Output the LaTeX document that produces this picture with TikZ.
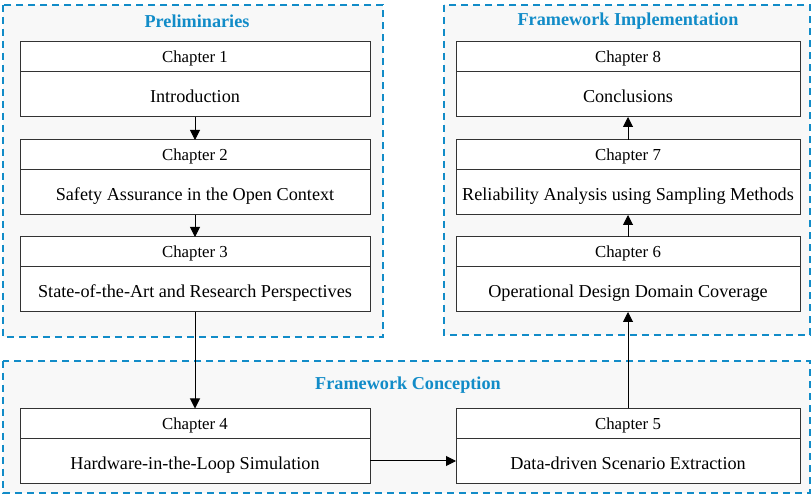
\documentclass[tikz,border=0pt]{standalone}
\usepackage{fontspec}
\setmainfont{Liberation Serif}
\usetikzlibrary{positioning,arrows.meta}

\definecolor{groupblue}{RGB}{18,140,200}
\definecolor{groupfill}{RGB}{248,248,248}

\tikzset{
  groupbox/.style={draw=groupblue, fill=groupfill, line width=1.5pt, dash pattern=on 7pt off 5pt},
  grouptitle/.style={text=groupblue, font=\fontsize{18.2}{20}\selectfont\bfseries, inner sep=0},
  chaphead/.style={draw=black!80, fill=white, line width=1pt, outer sep=0, inner sep=0,
    minimum height=30pt, text height=13pt, text depth=1.2pt, font=\fontsize{16.8}{19}\selectfont},
  chapbody/.style={draw=black!80, fill=white, line width=1pt, outer sep=0, inner sep=0,
    minimum height=45pt, text height=17pt, text depth=1pt, font=\fontsize{18.2}{20}\selectfont},
}

\begin{document}
\begin{tikzpicture}[x=1pt,y=-1pt]
  \useasboundingbox (0,0) rectangle (812,494);

  % groups
  \draw[groupbox] (3,5) rectangle (383,337);
  \draw[groupbox] (444,5) rectangle (810,335);
  \draw[groupbox] (3,361) rectangle (810,493);
  \node[grouptitle] (prelim) at (197,21) {Preliminaries};
  \node[grouptitle] (implem) at (628,21) {Framework Implementation};
  \node[grouptitle] (concep) at (408,385) {Framework Conception};

  % chapters
  \begin{scope}[every node/.append style={minimum width=350pt}]
    \node[chaphead] (c1h) at (195,57) {Chapter 1};
    \node[chapbody, below=0pt of c1h] (c1) {Introduction};
    \node[chaphead] (c2h) at (195,155) {Chapter 2};
    \node[chapbody, below=0pt of c2h] (c2) {Safety Assurance in the Open Context};
    \node[chaphead] (c3h) at (195,252) {Chapter 3};
    \node[chapbody, below=0pt of c3h] (c3) {State-of-the-Art and Research Perspectives};
    \node[chaphead] (c4h) at (195,423.5) {Chapter 4};
    \node[chapbody, below=0pt of c4h] (c4) {Hardware-in-the-Loop Simulation};
  \end{scope}
  \begin{scope}[every node/.append style={minimum width=344pt}]
    \node[chaphead] (c8h) at (628,57) {Chapter 8};
    \node[chapbody, below=0pt of c8h] (c8) {Conclusions};
    \node[chaphead] (c7h) at (628,155) {Chapter 7};
    \node[chapbody, below=0pt of c7h] (c7) {Reliability Analysis using Sampling Methods};
    \node[chaphead] (c6h) at (628,252) {Chapter 6};
    \node[chapbody, below=0pt of c6h] (c6) {Operational Design Domain Coverage};
    \node[chaphead] (c5h) at (628,423.5) {Chapter 5};
    \node[chapbody, below=0pt of c5h] (c5) {Data-driven Scenario Extraction};
  \end{scope}

  % flow
  \begin{scope}[every path/.style={line width=1pt, draw=black, -{Triangle[length=10pt,width=10pt]}}]
    \path (c1) edge (c2h);
    \path (c2) edge (c3h);
    \path (c3) edge (c4h);
    \path (c4) edge (c5);
    \path (c5h) edge (c6);
    \path (c6h) edge (c7);
    \path (c7h) edge (c8);
  \end{scope}
\end{tikzpicture}
\end{document}
